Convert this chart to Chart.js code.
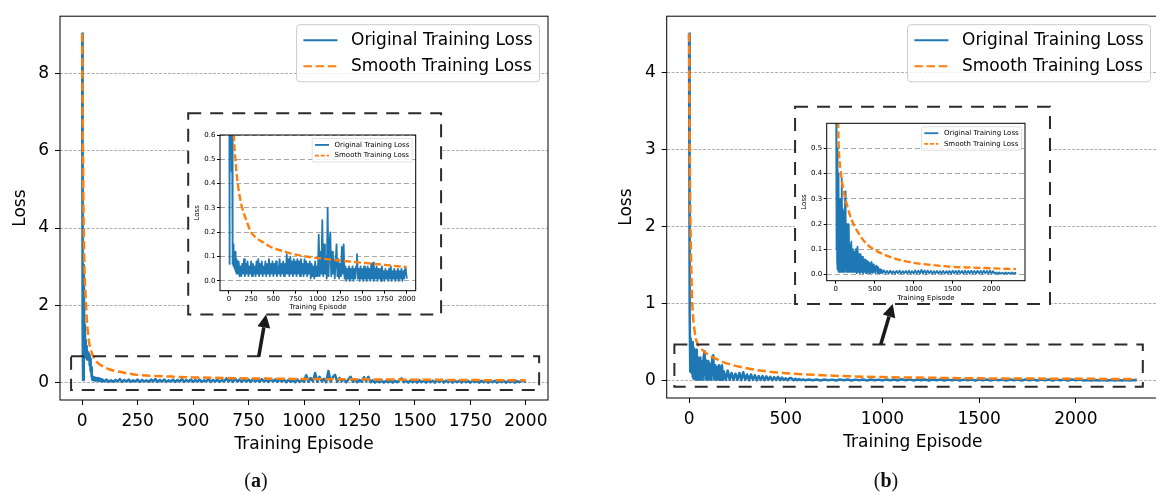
<!DOCTYPE html>
<html>
<head>
<meta charset="utf-8">
<script src="https://cdn.jsdelivr.net/npm/chart.js@4.4.1/dist/chart.umd.min.js"></script>
<style>
  html, body { margin: 0; padding: 0; background: #fff; overflow: hidden; width: 1156px; height: 495px; }
  canvas { position: absolute; }
  .cap { position: absolute; font-family: "Liberation Serif", serif; font-size: 20px; color: #111; transform: translateX(-50%); }
</style>
</head>
<body>
<canvas id="mainA" width="560" height="470" style="left:0;top:0"></canvas>
<canvas id="mainB" width="570" height="470" style="left:600px;top:0"></canvas>
<canvas id="insetA" width="248" height="200" style="left:190px;top:113px"></canvas>
<canvas id="insetB" width="250" height="203" style="left:797px;top:101px"></canvas>
<div class="cap" style="left:256px;top:469px">(<b>a</b>)</div>
<div class="cap" style="left:886px;top:469px">(<b>b</b>)</div>
<script>
const BLUE = '#1f77b4';
const ORANGE = '#ff7f0e';

// tick labels
const xTicksA = [0, 250, 500, 750, 1000, 1250, 1500, 1750, 2000];
const xTicksB = [0, 500, 1000, 1500, 2000];
const yTicksA = [0, 2, 4, 6, 8];
const yTicksB = [0, 1, 2, 3, 4];
const yTicksInsetA = [0, 0.1, 0.2, 0.3, 0.4, 0.5, 0.6];
const yTicksInsetB = [0, 0.1, 0.2, 0.3, 0.4, 0.5];

// ---- (a) original training loss ----
const epochsA = [
  0,2,4,6,8,10,12,14,16,18,20,22,24,26,28,30,32,34,36,38,40,42,44,46,48,50,
  53,56,59,62,65,68,71,74,77,80,84,88,92,96,
  100,110,120,130,140,150,160,170,180,190,
  200,210,220,230,240,250,260,270,280,290,
  300,310,320,330,340,350,360,370,380,390,
  400,410,420,430,440,450,460,470,480,490,
  500,510,520,530,540,550,560,570,580,590,
  600,610,620,630,640,650,660,670,680,690,
  700,710,720,730,740,750,760,770,780,790,
  800,810,820,830,840,850,860,870,880,890,
  900,910,920,930,940,950,960,970,980,990,
  1000,1010,1020,1030,1040,1050,1060,1070,1080,1090,
  1100,1110,1120,1130,1140,1150,1160,1170,1180,1190,
  1200,1210,1220,1230,1240,1250,1260,1270,1280,1290,
  1300,1310,1320,1330,1340,1350,1360,1370,1380,1390,
  1400,1410,1420,1430,1440,1450,1460,1470,1480,1490,
  1500,1510,1520,1530,1540,1550,1560,1570,1580,1590,
  1600,1610,1620,1630,1640,1650,1660,1670,1680,1690,
  1700,1710,1720,1730,1740,1750,1760,1770,1780,1790,
  1800,1810,1820,1830,1840,1850,1860,1870,1880,1890,
  1900,1910,1920,1930,1940,1950,1960,1970,1980,1990,
  2000
];
const lossA = [
  9.03,1.4,0.07,1.8,3.05,0.8,1.5,0.65,1.1,0.7,0.95,0.6,0.8,0.65,0.75,0.6,0.7,0.45,0.62,0.3,0.4,0.15,0.25,0.07,0.15,0.06,
  0.14,0.07,0.12,0.05,0.11,0.06,0.12,0.04,0.1,0.05,0.09,0.03,0.08,0.04,
  0.03,0.08,0.02,0.06,0.02,0.07,0.03,0.09,0.02,0.07,
  0.03,0.08,0.02,0.06,0.03,0.08,0.02,0.07,0.03,0.06,
  0.02,0.08,0.03,0.09,0.02,0.07,0.03,0.08,0.02,0.06,
  0.03,0.08,0.02,0.07,0.03,0.09,0.02,0.07,0.03,0.08,
  0.02,0.07,0.03,0.08,0.02,0.06,0.03,0.09,0.02,0.07,
  0.03,0.08,0.02,0.07,0.03,0.11,0.03,0.09,0.02,0.10,
  0.03,0.08,0.02,0.09,0.03,0.08,0.02,0.09,0.03,0.08,
  0.02,0.09,0.03,0.07,0.02,0.09,0.03,0.08,0.02,0.07,
  0.03,0.08,0.01,0.07,0.02,0.06,0.01,0.08,0.02,0.06,
  0.02,0.19,0.02,0.12,0.03,0.25,0.02,0.15,0.03,0.10,
  0.01,0.30,0.02,0.14,0.20,0.02,0.12,0.03,0.09,0.01,
  0.08,0.15,0.02,0.09,0.01,0.07,0.02,0.14,0.03,0.15,
  0.01,0.06,0.00,0.05,0.01,0.06,0.00,0.05,0.01,0.06,
  0.00,0.05,0.01,0.06,0.11,0.01,0.05,0.00,0.06,0.01,
  0.05,0.00,0.06,0.01,0.05,0.00,0.06,0.01,0.05,0.00,
  0.07,0.01,0.075,0.00,0.05,0.01,0.06,0.00,0.05,0.01,
  0.05,0.00,0.06,0.01,0.04,0.00,0.05,0.01,0.04,0.00,
  0.05,0.01,0.06,0.00,0.04,0.01,0.05,0.00,0.04,0.01,
  0.05,0.00,0.04,0.01,0.05,0.00,0.04,0.01,0.05,0.04,
  0.01
];
// (a) smoothed loss
const smoothEpochsA = [0,2,5,10,13,20,30,35,40,56,75,100,125,150,200,250,300,400,500,600,750,1000,1250,1500,1750,2000];
const smoothA = [9.03,7.2,5.0,3.0,2.55,1.7,1.1,0.92,0.82,0.6,0.49,0.4,0.34,0.3,0.245,0.2,0.18,0.155,0.135,0.124,0.108,0.094,0.084,0.075,0.066,0.057];

// ---- (b) original training loss ----
const epochsB = [
  0,2,4,6,8,10,12,14,16,18,20,22,25,28,31,34,37,40,43,46,50,54,58,62,66,70,
  75,80,85,90,95,100,105,110,115,120,125,130,135,140,145,150,155,160,165,170,175,180,
  190,200,210,220,230,240,250,260,270,280,
  290,300,310,320,330,340,350,360,370,380,
  390,400,410,420,430,440,450,460,470,480,
  490,500,510,520,530,540,550,560,570,580,
  590,600,
  620,640,660,680,700,720,740,760,780,800,
  820,840,860,880,900,920,940,960,980,1000,
  1020,1040,1060,1080,1100,1120,1140,1160,1180,1200,
  1220,1240,1260,1280,1300,1320,1340,1360,1380,1400,
  1420,1440,1460,1480,1500,1520,1540,1560,1580,1600,
  1620,1640,1660,1680,1700,1720,1740,1760,1780,1800,
  1820,1840,1860,1880,1900,1920,1940,1960,1980,2000,
  2020,2040,2060,2080,2100,2120,2140,2160,2180,2200,
  2220,2240,2260,2280,2300,2314
];
const lossB = [
  4.5,1.8,0.9,0.12,0.55,0.2,0.5,0.1,0.45,0.05,0.5,0.03,0.42,0.02,0.35,0.02,0.4,0.01,0.3,0.02,0.28,0.01,0.3,0.02,0.25,0.01,
  0.3,0.38,0.02,0.26,0.01,0.25,0.02,0.22,0.01,0.3,0.33,0.02,0.2,0.01,0.18,0.02,0.2,0.01,0.15,0.2,0.01,0.12,
  0.01,0.13,0.01,0.1,0.01,0.09,0.01,0.1,0.005,0.11,
  0.01,0.08,0.005,0.08,0.01,0.07,0.005,0.06,0.01,0.06,
  0.005,0.055,0.01,0.05,0.005,0.045,0.01,0.05,0.005,0.04,
  0.01,0.03,0.005,0.035,0.03,0.005,0.025,0.005,0.02,0.005,
  0.018,0.005,
  0.016,0.004,0.014,0.003,0.015,0.004,0.013,0.003,0.014,0.004,
  0.015,0.003,0.013,0.004,0.014,0.003,0.015,0.004,0.013,0.003,
  0.016,0.004,0.015,0.003,0.018,0.004,0.016,0.003,0.015,0.004,
  0.014,0.003,0.013,0.004,0.014,0.003,0.013,0.004,0.014,0.003,
  0.013,0.004,0.014,0.003,0.015,0.004,0.014,0.003,0.015,0.004,
  0.014,0.003,0.015,0.004,0.014,0.003,0.015,0.004,0.014,0.003,
  0.015,0.004,0.014,0.003,0.015,0.004,0.014,0.003,0.015,0.004,
  0.013,0.003,0.008,0.002,0.008,0.003,0.007,0.002,0.008,0.003,
  0.007,0.002,0.008,0.003,0.007,0.002
];
// (b) smoothed loss
const smoothEpochsB = [0,3,6,10,15,20,30,40,60,100,150,200,300,400,500,750,1000,1250,1500,1750,2000,2314];
const smoothB = [4.5,3.2,2.3,1.6,1.1,0.85,0.62,0.5,0.42,0.335,0.27,0.22,0.16,0.12,0.097,0.064,0.046,0.037,0.03,0.027,0.024,0.021];

// zoom-box / inset-box / arrow annotations, in data units of the main plots
const annotA = {
  zoom:  { x0: -50, x1: 2060, y0: -0.19, y1: 0.68 },
  inset: { x0: 478, x1: 1618, y0: 1.76, y1: 6.97 },
  arrow: { x0: 796, y0: 0.68, x1: 829, y1: 1.76 }
};
const annotB = {
  zoom:  { x0: -76, x1: 2346, y0: -0.08, y1: 0.47 },
  inset: { x0: 548, x1: 1866, y0: 0.994, y1: 3.55 },
  arrow: { x0: 991, y0: 0.47, x1: 1053, y1: 0.994 }
};

Chart.defaults.font.family = '"DejaVu Sans", sans-serif';

function pts(xs, ys) {
  return xs.map((x, i) => ({ x: x, y: ys[i] }));
}

// matplotlib-like frame, legend and annotations
const mplPlugin = {
  id: 'mpl',
  afterDraw(chart, args, o) {
    const ctx = chart.ctx, a = chart.chartArea;
    const xs = chart.scales.x, ys = chart.scales.y;
    const px = v => xs.getPixelForValue(v), py = v => ys.getPixelForValue(v);
    ctx.save();
    if (o.annot) {
      const an = o.annot;
      ctx.strokeStyle = '#2b2b2b';
      ctx.lineWidth = 2;
      ctx.setLineDash([13, 9]);
      [an.inset, an.zoom].forEach((b, k) => {
        const x0 = px(b.x0), x1 = px(b.x1), y0 = py(b.y1), y1 = py(b.y0);
        if (k === 0) { ctx.fillStyle = '#fff'; ctx.fillRect(x0, y0, x1 - x0, y1 - y0); }
        ctx.strokeRect(x0, y0, x1 - x0, y1 - y0);
      });
      const ar = an.arrow;
      const ax0 = px(ar.x0), ay0 = py(ar.y0), ax1 = px(ar.x1), ay1 = py(ar.y1);
      const ang = Math.atan2(ay1 - ay0, ax1 - ax0), hl = 13, hw = 6.5;
      const bx = ax1 - hl * Math.cos(ang), by = ay1 - hl * Math.sin(ang);
      ctx.setLineDash([]);
      ctx.lineWidth = 3.5;
      ctx.strokeStyle = ctx.fillStyle = '#1a1a1a';
      ctx.beginPath(); ctx.moveTo(ax0, ay0); ctx.lineTo(bx, by); ctx.stroke();
      ctx.beginPath();
      ctx.moveTo(ax1, ay1);
      ctx.lineTo(bx + hw * Math.sin(ang), by - hw * Math.cos(ang));
      ctx.lineTo(bx - hw * Math.sin(ang), by + hw * Math.cos(ang));
      ctx.closePath(); ctx.fill();
    }
    // frame
    ctx.setLineDash([]);
    ctx.strokeStyle = '#000';
    ctx.lineWidth = o.frameLw;
    ctx.strokeRect(a.left, a.top, a.right - a.left, a.bottom - a.top);
    // legend
    const L = o.legend, fs = L.fs;
    ctx.font = fs + 'px "DejaVu Sans"';
    const tw = Math.max(...L.items.map(it => ctx.measureText(it.label).width));
    const pad = 0.4 * fs, hl = 2 * fs, htp = 0.8 * fs, ls = 0.5 * fs, axp = 0.5 * fs, rowH = 1.03 * fs;
    const w = 2 * pad + hl + htp + tw;
    const h = 2 * pad + rowH * L.items.length + ls * (L.items.length - 1);
    const bx = a.right - axp - w, by = a.top + axp;
    ctx.fillStyle = 'rgba(255,255,255,0.8)';
    ctx.strokeStyle = '#cccccc';
    ctx.lineWidth = L.frameLw;
    ctx.beginPath(); ctx.roundRect(bx, by, w, h, 0.2 * fs); ctx.fill(); ctx.stroke();
    L.items.forEach((it, i) => {
      const cy = by + pad + rowH / 2 + i * (rowH + ls);
      ctx.strokeStyle = it.color;
      ctx.lineWidth = L.lw;
      ctx.setLineDash(it.dash);
      ctx.beginPath(); ctx.moveTo(bx + pad, cy); ctx.lineTo(bx + pad + hl, cy); ctx.stroke();
      ctx.setLineDash([]);
      ctx.fillStyle = '#000';
      ctx.textBaseline = 'middle';
      ctx.textAlign = 'left';
      ctx.fillText(it.label, bx + pad + hl + htp, cy);
    });
    ctx.restore();
  }
};

function lossChart(id, c) {
  return new Chart(document.getElementById(id), {
    type: 'line',
    data: {
      datasets: [
        { label: 'Smooth Training Loss', data: pts(c.smX, c.smY), borderColor: ORANGE, borderWidth: c.lwSm,
          borderDash: c.dashSm, cubicInterpolationMode: 'monotone', pointRadius: 0, order: 0 },
        { label: 'Original Training Loss', data: pts(c.rawX, c.rawY), borderColor: BLUE, borderWidth: c.lwRaw,
          borderJoinStyle: 'round', pointRadius: 0, order: 1 }
      ]
    },
    options: {
      responsive: false,
      animation: false,
      events: [],
      layout: { padding: { top: c.padTop, right: c.padRight, left: 0, bottom: 0 } },
      plugins: {
        legend: { display: false },
        tooltip: { enabled: false },
        mpl: {
          annot: c.annot,
          frameLw: c.frameLw,
          legend: {
            fs: c.legFs, lw: c.legLw, frameLw: c.legFrameLw,
            items: [
              { label: 'Original Training Loss', color: BLUE, dash: [] },
              { label: 'Smooth Training Loss', color: ORANGE, dash: c.legDash }
            ]
          }
        }
      },
      scales: {
        x: {
          type: 'linear', min: c.xMin, max: c.xMax,
          afterFit: s => { s.height = c.xH; },
          afterBuildTicks: s => { s.ticks = c.xTicks.map(v => ({ value: v })); },
          ticks: { autoSkip: false, maxRotation: 0, color: '#000',
                   font: { size: c.fs }, padding: c.tickPad, callback: v => String(v) },
          grid: { drawOnChartArea: false, drawTicks: true, tickLength: c.tickLen, tickColor: '#000', tickWidth: 1 },
          border: { display: false },
          title: { display: true, text: 'Training Episode', color: '#000', font: { size: c.fs },
                   padding: { top: 0, bottom: c.xTitlePad } }
        },
        y: {
          type: 'linear', min: c.yMin, max: c.yMax,
          afterFit: s => { s.width = c.yW; },
          afterBuildTicks: s => { s.ticks = c.yTicks.map(v => ({ value: v })); },
          ticks: { autoSkip: false, color: '#000', font: { size: c.fs }, padding: c.tickPad,
                   callback: v => c.yDec ? v.toFixed(c.yDec) : String(v) },
          grid: { color: c.gridColor, lineWidth: c.gridLw, drawTicks: true, tickLength: c.tickLen,
                  tickColor: '#000', tickWidth: 1 },
          border: { display: false, dash: c.gridDash },
          title: { display: true, text: 'Loss', color: '#000', font: { size: c.fs },
                   padding: { top: c.yTitlePad, bottom: 0 } }
        }
      }
    },
    plugins: [mplPlugin]
  });
}

const mainStyle = {
  fs: 17, tickLen: 5, tickPad: 6, lwRaw: 2.5, lwSm: 2.5, dashSm: [8.5, 3.7],
  gridColor: '#b0b0b0', gridLw: 1, gridDash: [3, 1.5], frameLw: 1,
  legFs: 17, legLw: 2.2, legFrameLw: 1, legDash: [8.5, 3.7]
};
const insetStyle = {
  fs: 7, tickLen: 3, tickPad: 1.5, lwRaw: 1.8, lwSm: 2.4, dashSm: [7, 3],
  gridColor: '#a8a8a8', gridLw: 1, gridDash: [5, 3], frameLw: 1,
  legFs: 7, legLw: 1.8, legFrameLw: 0.6, legDash: [4, 1.8], annot: null
};

lossChart('mainA', Object.assign({}, mainStyle, {
  rawX: epochsA, rawY: lossA, smX: smoothEpochsA, smY: smoothA,
  xMin: -100, xMax: 2100, xTicks: xTicksA, yMin: -0.45, yMax: 9.48, yTicks: yTicksA, yDec: 0,
  yW: 60, xH: 70, padTop: 13, padRight: 12, yTitlePad: 10.8, xTitlePad: 14.8, annot: annotA
}));
lossChart('mainB', Object.assign({}, mainStyle, {
  rawX: epochsB, rawY: lossB, smX: smoothEpochsB, smY: smoothB,
  xMin: -115.7, xMax: 2429.7, xTicks: xTicksB, yMin: -0.225, yMax: 4.725, yTicks: yTicksB, yDec: 0,
  yW: 66.7, xH: 72, padTop: 7, padRight: 11, yTitlePad: 16.8, xTitlePad: 16.8, annot: annotB
}));
lossChart('insetA', Object.assign({}, insetStyle, {
  rawX: epochsA, rawY: lossA, smX: smoothEpochsA, smY: smoothA,
  xMin: -100, xMax: 2100, xTicks: xTicksA, yMin: -0.04, yMax: 0.6, yTicks: yTicksInsetA, yDec: 1,
  yW: 30, xH: 22.3, padTop: 22, padRight: 22.3, yTitlePad: 2.8, xTitlePad: 1.5
}));
lossChart('insetB', Object.assign({}, insetStyle, {
  rawX: epochsB, rawY: lossB, smX: smoothEpochsB, smY: smoothB,
  xMin: -115.7, xMax: 2429.7, xTicks: xTicksB, yMin: -0.025, yMax: 0.6, yTicks: yTicksInsetB, yDec: 1,
  yW: 29.7, xH: 23.3, padTop: 22.3, padRight: 22, yTitlePad: 2.8, xTitlePad: 1.5
}));
</script>
</body>
</html>
